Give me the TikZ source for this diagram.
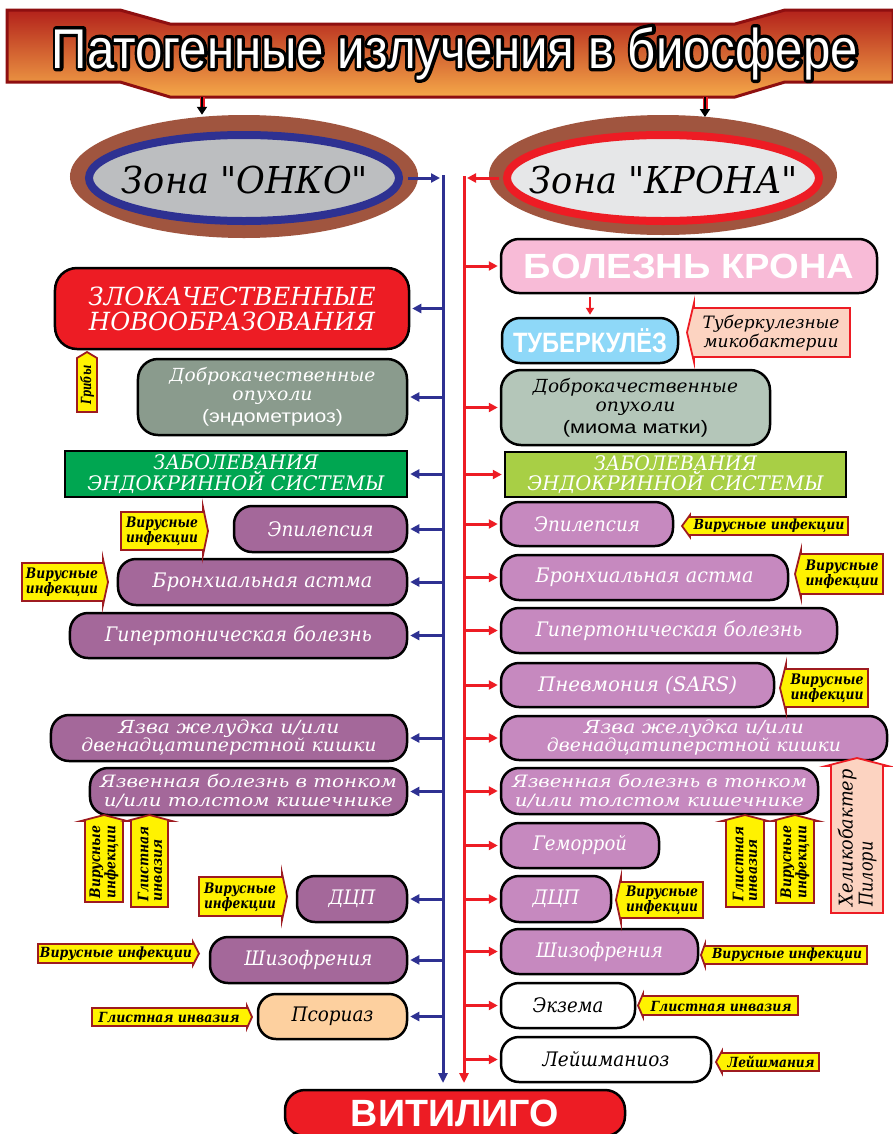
\documentclass[tikz,border=0pt]{standalone}
\usepackage{fontspec}
\usepackage{graphicx}
\setmainfont{DejaVu Serif}
\newfontfamily\sansf{Liberation Sans}
\newfontfamily\sansfat{Liberation Sans}[FakeBold=12]
\newfontfamily\qfont{DejaVu Serif}[Ligatures=TeXOff]
\usetikzlibrary{arrows.meta,calc,shapes.geometric}
\definecolor{bnTop}{HTML}{B3221B}
\definecolor{bnBot}{HTML}{F5A849}
\definecolor{bnEdge}{HTML}{8E0F10}
\definecolor{brownE}{HTML}{A0553F}
\definecolor{blueL}{HTML}{2E3192}
\definecolor{redL}{HTML}{ED1C24}
\definecolor{greyE}{HTML}{BCBEC0}
\definecolor{greyF}{HTML}{E6E7E8}
\definecolor{purpL}{HTML}{A4689A}
\definecolor{purpR}{HTML}{C689BF}
\definecolor{sageL}{HTML}{8A9B8D}
\definecolor{sageR}{HTML}{B4C6B9}
\definecolor{greenL}{HTML}{00A651}
\definecolor{limeR}{HTML}{A8CF45}
\definecolor{pinkR}{HTML}{F8BBD7}
\definecolor{skyR}{HTML}{8ED8F8}
\definecolor{peach}{HTML}{FDD09F}
\definecolor{pinkTag}{HTML}{FCD3C1}
\definecolor{tagY}{HTML}{FFF200}
\definecolor{tagE}{HTML}{9E1B20}
\newcommand\fw[2]{\resizebox{#1bp}{\height}{#2}}
\newcommand\ttltext{\fw{806}{Патогенные излучения в биосфере}}
\newcommand\qq{{\qfont\itshape"}}
\newcommand\tagR[7][tagst]{\filldraw[#1] (#2,#3) -- (#4,#3) -- (#4,#3-#7) -- (#6,{(#3+#5)/2}) -- (#4,#5+#7) -- (#4,#5) -- (#2,#5) -- cycle;}
\newcommand\tagL[7][tagst]{\filldraw[#1] (#4,#3) -- (#2,#3) -- (#2,#3-#7) -- (#6,{(#3+#5)/2}) -- (#2,#5+#7) -- (#2,#5) -- (#4,#5) -- cycle;}
\newcommand\tagU[7][tagst]{\filldraw[#1] (#2,#5) -- (#2,#3) -- (#2-#7,#3) -- ({(#2+#4)/2},#6) -- (#4+#7,#3) -- (#4,#3) -- (#4,#5) -- cycle;}
\tikzset{
 bx/.style={draw=black,line width=2.5bp,rounded corners=18bp,inner sep=0pt,align=center,text=white,font=\fontsize{20bp}{22bp}\selectfont\itshape},
 sq/.style={draw=black,line width=2.5bp,inner sep=0pt,align=center,text=white},
 tagst/.style={fill=tagY,draw=tagE,line width=1.8bp},
 pinkst/.style={fill=pinkTag,draw=redL,line width=1.8bp},
 tt/.style={inner sep=0pt,align=center,font=\fontsize{14.5bp}{13.5bp}\selectfont\bfseries\itshape},
 tt1/.style={inner sep=0pt,font=\fontsize{14bp}{14bp}\selectfont\bfseries\itshape},
 ttl/.style={anchor=base,inner sep=0pt,font=\sansf\fontsize{56bp}{60bp}\selectfont},
 zt/.style={inner sep=0pt,font=\fontsize{37bp}{40bp}\selectfont\itshape},
 barr/.style={draw=blueL,line width=3bp,-{Triangle[length=9bp,width=9bp]}},
 rarr/.style={draw=redL,line width=3bp,-{Triangle[length=9bp,width=9bp]}},
}
\begin{document}
\begin{tikzpicture}[x=1bp,y=-1bp]
\useasboundingbox (0,0) rectangle (893,1134);
\fill[white] (0,0) rectangle (893,1134);
% banner
\shadedraw[top color=bnTop,bottom color=bnBot,draw=bnEdge,line width=3bp]
 (7,10) -- (120,10) -- (170,24) -- (735,24) -- (785,10) -- (893,10) -- (893,82) -- (785,82) -- (735,97) -- (170,97) -- (120,82) -- (7,82) -- cycle;
\begin{scope}[line join=round]
\node[ttl,text=black,font=\sansfat\fontsize{56bp}{60bp}\selectfont] (tshadow) at (455,68) {\ttltext};
\end{scope}
\node[ttl,text=white] (title) at (455,68) {\ttltext};
% ellipses
\node[ellipse,fill=brownE,minimum width=348bp,minimum height=123bp,inner sep=0pt] (onkoOut) at (244,176.5) {};
\node[ellipse,fill=greyE,draw=blueL,line width=8bp,minimum width=310bp,minimum height=86bp,inner sep=0pt] (onko) at (244,178) {};
\node[zt] (onkoT) at (245,180) {\fw{246}{Зона \qq ОНКО\qq}};
\node[ellipse,fill=brownE,minimum width=348bp,minimum height=120bp,inner sep=0pt] (kronaOut) at (663,175) {};
\node[ellipse,fill=greyF,draw=redL,line width=8bp,minimum width=312bp,minimum height=86bp,inner sep=0pt] (krona) at (663,178) {};
\node[zt] (kronaT) at (664,180) {\fw{268}{Зона \qq КРОНА\qq}};
% banner arrows
\coordinate (bn1) at (202,97);
\coordinate (bn2) at (705,97);
\coordinate (e2top) at (705,117);
\draw[redL,line width=5bp,shorten >=7bp] (bn1) -- (onkoOut.north -| bn1);
\draw[black,line width=2bp,-{Triangle[length=8bp,width=10bp]}] (bn1) -- (onkoOut.north -| bn1);
\draw[redL,line width=5bp,shorten >=7bp] (bn2) -- (e2top);
\draw[black,line width=2bp,-{Triangle[length=8bp,width=10bp]}] (bn2) -- (e2top);
% vertical lines
\coordinate (bTop) at (443,175);
\coordinate (bBot) at (443,1083);
\coordinate (rTop) at (464,176);
\coordinate (rBot) at (464,1083);
\draw[blueL,line width=3bp,-{Triangle[length=10bp,width=9bp]}] (bTop) -- (bBot);
\draw[redL,line width=3bp,-{Triangle[length=10bp,width=9bp]}] (rTop) -- (rBot);
\coordinate (bx) at (442,0);
\coordinate (bxe) at (440,0);
\coordinate (rx) at (465,0);
\coordinate (rxe) at (467,0);
\draw[barr] ([xshift=5bp]onko.east) -- (onko.east -| bxe);
\draw[rarr] ([xshift=-4bp]krona.west) -- (krona.west -| rxe);
% left boxes
\node[bx,fill=redL,rounded corners=22bp,minimum width=354bp,minimum height=81bp,font=\fontsize{25bp}{25bp}\selectfont\itshape] (l1) at (232,308.5) {\fw{287}{ЗЛОКАЧЕСТВЕННЫЕ}\\\fw{286}{НОВООБРАЗОВАНИЯ}};
\node[bx,fill=sageL,rounded corners=20bp,minimum width=269bp,minimum height=76bp,font=\fontsize{18bp}{19bp}\selectfont\itshape] (l2) at (272.5,397) {\fw{206}{Доброкачественные}\\\fw{80}{опухоли}\\[3bp]{\sansf\upshape\fontsize{18bp}{19bp}\selectfont\fw{141}{(эндометриоз)}}};
\node[sq,fill=greenL,minimum width=342bp,minimum height=46bp,font=\fontsize{20bp}{18bp}\selectfont\itshape] (l3) at (236,474) {\fw{165}{ЗАБОЛЕВАНИЯ}\\\fw{297}{ЭНДОКРИННОЙ СИСТЕМЫ}};
\node[bx,fill=purpL,minimum width=173bp,minimum height=46bp] (l4) at (320.5,529) {\fw{106}{Эпилепсия}};
\node[bx,fill=purpL,minimum width=289bp,minimum height=46bp] (l5) at (262.5,582) {\fw{220}{Бронхиальная астма}};
\node[bx,fill=purpL,minimum width=337bp,minimum height=45bp] (l6) at (238.5,635.5) {\fw{267}{Гипертоническая болезнь}};
\node[bx,fill=purpL,minimum width=356bp,minimum height=46bp,font=\fontsize{18bp}{18bp}\selectfont\itshape] (l7) at (229,738) {\fw{221}{Язва желудка и/или}\\\fw{295}{двенадцатиперстной кишки}};
\node[bx,fill=purpL,minimum width=317bp,minimum height=47bp,font=\fontsize{17bp}{19bp}\selectfont\itshape] (l8) at (248.5,791.5) {\fw{297}{Язвенная болезнь в тонком}\\\fw{289}{и/или толстом кишечнике}};
\node[bx,fill=purpL,minimum width=110bp,minimum height=46bp] (l9) at (352,899) {\fw{47}{ДЦП}};
\node[bx,fill=purpL,minimum width=197bp,minimum height=46bp] (l10) at (308.5,960) {\fw{128}{Шизофрения}};
\node[bx,fill=peach,text=black,minimum width=149bp,minimum height=45bp] (l11) at (332.5,1016.5) {\fw{82}{Псориаз}};
\foreach \n in {l1,l2,l3,l4,l5,l6,l7,l8,l9,l10,l11}
 \draw[barr] (\n.east -| bx) -- ([xshift=2bp]\n.east);
% right boxes
\node[bx,fill=pinkR,minimum width=376bp,minimum height=54bp,font=\sansf\bfseries\fontsize{35bp}{35bp}\selectfont] (r1) at (689,266) {\fw{330}{БОЛЕЗНЬ КРОНА}};
\node[bx,fill=skyR,minimum width=176bp,minimum height=45bp,font=\sansf\bfseries\fontsize{28bp}{28bp}\selectfont] (r2) at (590,340.5) {\fw{154}{ТУБЕРКУЛЁЗ}};
\node[bx,fill=sageR,text=black,rounded corners=20bp,minimum width=269bp,minimum height=75bp,font=\fontsize{18bp}{19bp}\selectfont\itshape] (r3) at (635.5,407.5) {\fw{205}{Доброкачественные}\\\fw{80}{опухоли}\\[3bp]{\sansf\upshape\fontsize{18bp}{19bp}\selectfont\fw{145}{(миома матки)}}};
\node[sq,fill=limeR,minimum width=341bp,minimum height=45bp,font=\fontsize{20bp}{18bp}\selectfont\itshape] (r4) at (675.5,474.5) {\fw{163}{ЗАБОЛЕВАНИЯ}\\\fw{296}{ЭНДОКРИННОЙ СИСТЕМЫ}};
\node[bx,fill=purpR,minimum width=172bp,minimum height=44bp] (r5) at (587,524) {\fw{106}{Эпилепсия}};
\node[bx,fill=purpR,minimum width=287bp,minimum height=45bp] (r6) at (644.5,577.5) {\fw{218}{Бронхиальная астма}};
\node[bx,fill=purpR,minimum width=336bp,minimum height=45bp] (r7) at (669,630.5) {\fw{267}{Гипертоническая болезнь}};
\node[bx,fill=purpR,minimum width=273bp,minimum height=44bp] (r8) at (637.5,685) {\fw{199}{Пневмония (SARS)}};
\node[bx,fill=purpR,minimum width=386bp,minimum height=44bp,font=\fontsize{18bp}{18bp}\selectfont\itshape] (r9) at (694,738) {\fw{220}{Язва желудка и/или}\\\fw{294}{двенадцатиперстной кишки}};
\node[bx,fill=purpR,minimum width=317bp,minimum height=46bp,font=\fontsize{17bp}{19bp}\selectfont\itshape] (r10) at (659.5,791) {\fw{295}{Язвенная болезнь в тонком}\\\fw{289}{и/или толстом кишечнике}};
\node[bx,fill=purpR,minimum width=158bp,minimum height=45bp] (r11) at (580,845.5) {\fw{94}{Геморрой}};
\node[bx,fill=purpR,minimum width=110bp,minimum height=46bp] (r12) at (556,899) {\fw{47}{ДЦП}};
\node[bx,fill=purpR,minimum width=197bp,minimum height=45bp] (r13) at (599.5,951.5) {\fw{127}{Шизофрения}};
\node[bx,fill=white,text=black,minimum width=134bp,minimum height=45bp] (r14) at (568,1005.5) {\fw{71}{Экзема}};
\node[bx,fill=white,text=black,minimum width=210bp,minimum height=45bp] (r15) at (606,1059.5) {\fw{127}{Лейшманиоз}};
\foreach \n in {r1,r3,r4,r5,r6,r7,r8,r9,r10,r11,r12,r13,r14,r15}
 \draw[rarr] (\n.west -| rx) -- ([xshift=-2bp]\n.west);
\coordinate (dnx) at (590,0);
\draw[rarr,line width=2.5bp,shorten <=3bp,shorten >=2bp,-{Triangle[length=7bp,width=8bp]}] (r1.south -| dnx) -- (r2.north -| dnx);
% vitiligo
\node[bx,fill=redL,rounded corners=20bp,minimum width=340bp,minimum height=46bp,font=\sansf\bfseries\fontsize{38bp}{38bp}\selectfont] (vit) at (455,1113) {\fw{208}{ВИТИЛИГО}};
% left tags
\tagU{77}{358}{97}{412}{352}{0}
\node[tt1,rotate=90] (tGr) at (87,385) {\fw{39}{Грибы}};
\tagR{121}{512}{203}{550}{208}{5}
\node[tt] (tEpL) at (162,531) {\fw{72}{Вирусные}\\\fw{72}{инфекции}};
\tagR{22}{563}{103}{601}{108}{4}
\node[tt] (tBrL) at (62,582) {\fw{72}{Вирусные}\\\fw{72}{инфекции}};
\tagR{199}{877}{282}{916}{287}{4}
\node[tt] (tDcL) at (240,897) {\fw{72}{Вирусные}\\\fw{72}{инфекции}};
\tagR{38}{944}{193}{963}{199}{2}
\node[tt1] (tShL) at (116,954) {\fw{152}{Вирусные инфекции}};
\tagR{92}{1008}{247}{1026}{252}{2}
\node[tt1] (tPsL) at (169,1017) {\fw{141}{Глистная инвазия}};
\tagU{85}{821}{123}{902}{815}{4}
\node[tt,rotate=90] (tViL) at (104,862) {\fw{73}{Вирусные}\\\fw{73}{инфекции}};
\tagU{131}{821}{168}{907}{815}{4}
\node[tt,rotate=90,align=left] (tGlL) at (150,864) {\fw{75}{Глистная}\\\fw{62}{инвазия}};
% right tags
\tagL[pinkst]{694}{308}{850}{357}{687}{5}
\node[inner sep=0pt,align=center,font=\fontsize{17bp}{19bp}\selectfont\itshape] (tTub) at (771,333) {\fw{137}{Туберкулезные}\\\fw{135}{микобактерии}};
\tagL{690}{517}{848}{535}{682}{2}
\node[tt1] (tEpR) at (769,526) {\fw{151}{Вирусные инфекции}};
\tagL{801}{554}{883}{594}{795}{4}
\node[tt] (tBrR) at (842,574) {\fw{73}{Вирусные}\\\fw{73}{инфекции}};
\tagL{786}{669}{868}{707}{780}{5}
\node[tt] (tPnR) at (827,688) {\fw{73}{Вирусные}\\\fw{73}{инфекции}};
\tagL{621}{882}{703}{918}{616}{5}
\node[tt] (tDcR) at (662,900) {\fw{72}{Вирусные}\\\fw{72}{инфекции}};
\tagL{705}{946}{867}{964}{701}{2}
\node[tt1] (tShR) at (787,955) {\fw{150}{Вирусные инфекции}};
\tagL{643}{996}{798}{1015}{638}{2}
\node[tt1] (tEkR) at (721,1006) {\fw{141}{Глистная инвазия}};
\tagL{722}{1053}{819}{1071}{716}{2}
\node[tt1] (tLeR) at (771,1062) {\fw{87}{Лейшмания}};
\tagU{726}{821}{764}{907}{815}{4}
\node[tt,rotate=90,align=left] (tGlR) at (745,864) {\fw{75}{Глистная}\\\fw{62}{инвазия}};
\tagU{776}{821}{814}{903}{815}{4}
\node[tt,rotate=90] (tViR) at (795,862) {\fw{73}{Вирусные}\\\fw{73}{инфекции}};
\tagU[pinkst]{831}{766}{883}{913}{758}{5}
\node[inner sep=0pt,rotate=90,align=left,font=\fontsize{19bp}{20bp}\selectfont\itshape] (tHe) at (857,838) {\fw{137}{Хеликобактер}\\\fw{65}{Пилори}};
\end{tikzpicture}
\end{document}
